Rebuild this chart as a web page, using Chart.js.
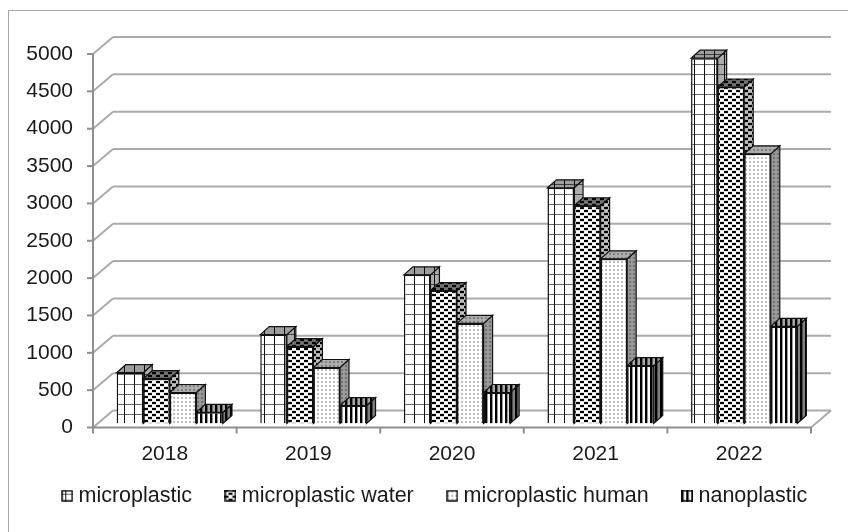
<!DOCTYPE html>
<html>
<head>
<meta charset="utf-8">
<style>
    html, body { margin: 0; padding: 0; background: #fff; }
    #wrap { width: 848px; height: 532px; position: relative; overflow: hidden; }
    #frame { position: absolute; left: 8px; top: 10px; width: 860px; height: 540px; border: 1.5px solid #a8a8a8; box-sizing: border-box; }
    canvas { position: absolute; left: 0; top: 0; filter: blur(0.5px); }
</style>
<script src="https://cdn.jsdelivr.net/npm/chart.js@4/dist/chart.umd.min.js"></script>
</head>
<body>
<div id="wrap">
    <div id="frame"></div>
    <canvas id="chart" width="848" height="532"></canvas>
</div>
<script>
const years = ['2018', '2019', '2020', '2021', '2022']
const series_names = ['microplastic', 'microplastic water', 'microplastic human', 'nanoplastic']
const microplastic = [680, 1190, 1990, 3155, 4890]
const microplastic_water = [600, 1030, 1780, 2915, 4505]
const microplastic_human = [415, 750, 1340, 2205, 3610]
const nanoplastic = [150, 240, 415, 775, 1300]

const FONT = 'Liberation Sans'
const TEXT = '#1a1a1a'
const WALL = '#ababab'
const AXIS = '#8f8f8f'

// depth of the fake 3d box, measured from the plane of the bar fronts
const FRONT = { x: -5, y: 4 }
const BACK = { x: 15, y: -13 }
const BAR_DEPTH = { x: 9, y: -8 }

// where the legend sits, the x labels would push it too low otherwise
const LEGEND_SHIFT = 39
const LEGEND_TOP = 447

//
// Fill patterns
//

function tile (w, h, paint) {
    const c = document.createElement('canvas')
    c.width = w
    c.height = h
    const ctx = c.getContext('2d')
    ctx.fillStyle = '#fff'
    ctx.fillRect(0, 0, w, h)
    paint(ctx)
    return c
}

const grid_tile = tile(10, 10, (ctx) => {
    ctx.fillStyle = '#666'
    ctx.fillRect(0, 4, 10, 1)
    ctx.fillStyle = '#111'
    ctx.fillRect(4, 0, 1, 10)
})
const check_tile = tile(8, 6, (ctx) => {
    ctx.fillStyle = '#000'
    ctx.fillRect(0, 0, 4, 2)
    ctx.fillRect(4, 3, 4, 2)
    ctx.fillStyle = '#ddd'
    ctx.fillRect(0, 2, 8, 1)
    ctx.fillRect(0, 5, 8, 1)
})
const dot_tile = tile(4, 4, (ctx) => {
    ctx.fillStyle = '#bdbdbd'
    ctx.fillRect(1, 1, 2, 2)
})
const stripe_tile = tile(5, 4, (ctx) => {
    ctx.fillStyle = '#000'
    ctx.fillRect(0, 0, 2, 4)
    ctx.fillStyle = '#999'
    ctx.fillRect(2, 0, 1, 4)
})
const tiles = [grid_tile, check_tile, dot_tile, stripe_tile]
const patterns = tiles.map((t) => t.getContext('2d').createPattern(t, 'repeat'))

// shade over the pattern: [ side, top ]
const shades = [
    [ 'rgba(0,0,0,0.32)', 'rgba(0,0,0,0.38)' ],
    [ 'rgba(0,0,0,0.25)', 'rgba(0,0,0,0.55)' ],
    [ 'rgba(0,0,0,0.40)', 'rgba(0,0,0,0.32)' ],
    [ 'rgba(0,0,0,0.50)', 'rgba(0,0,0,0.35)' ],
]

function legend_icon (pattern) {
    const c = document.createElement('canvas')
    c.width = 12
    c.height = 12
    const ctx = c.getContext('2d')
    ctx.fillStyle = pattern
    ctx.fillRect(0, 0, 12, 12)
    ctx.strokeStyle = '#111'
    ctx.lineWidth = 1.5
    ctx.strokeRect(1, 1, 10, 10)
    return c
}

//
// Box walls and bar side faces
//

function line (ctx, x0, y0, x1, y1) {
    ctx.beginPath()
    ctx.moveTo(x0, y0)
    ctx.lineTo(x1, y1)
    ctx.stroke()
}

function face (ctx, points, pattern, shade) {
    ctx.beginPath()
    points.forEach(([ x, y ], i) => (i ? ctx.lineTo(x, y) : ctx.moveTo(x, y)))
    ctx.closePath()
    ctx.fillStyle = pattern
    ctx.fill()
    ctx.fillStyle = shade
    ctx.fill()
    ctx.strokeStyle = '#111'
    ctx.lineWidth = 1.2
    ctx.stroke()
}

const box3d = {
    id: 'box3d',
    afterLayout (chart) {
        chart.legend.left += LEGEND_SHIFT
        chart.legend.right += LEGEND_SHIFT
        chart.legend.top = LEGEND_TOP
    },
    beforeDatasetsDraw (chart) {
        const { ctx, chartArea: area, scales } = chart
        const { y: y_scale } = scales
        const front_l = area.left + FRONT.x
        const front_r = area.right + FRONT.x
        const back_l = area.left + BACK.x
        const back_r = area.right + BACK.x
        ctx.save()

        ctx.lineWidth = 2
        ctx.strokeStyle = WALL
        for (const tick of y_scale.ticks) {
            const y = y_scale.getPixelForValue(tick.value)
            line(ctx, back_l, y + BACK.y, back_r, y + BACK.y)
            line(ctx, front_l, y + FRONT.y, back_l, y + BACK.y)
        }
        const base = y_scale.getPixelForValue(0)
        line(ctx, front_r, base + FRONT.y, back_r, base + BACK.y)

        ctx.strokeStyle = AXIS
        line(ctx, front_l, y_scale.getPixelForValue(5000) + FRONT.y, front_l, base + FRONT.y)
        line(ctx, front_l, base + FRONT.y, front_r, base + FRONT.y)
        for (const tick of y_scale.ticks) {
            const y = y_scale.getPixelForValue(tick.value) + FRONT.y
            line(ctx, front_l - 6, y, front_l, y)
        }
        const step = (area.right - area.left) / years.length
        for (let i = 0; i <= years.length; i++) {
            const x = front_l + i * step
            line(ctx, x, base + FRONT.y, x, base + FRONT.y + 6)
        }

        chart.data.datasets.forEach((ds, i) => {
            const [ side_shade, top_shade ] = shades[i]
            chart.getDatasetMeta(i).data.forEach((bar) => {
                const { x, y, base: b, width } = bar.getProps([ 'x', 'y', 'base', 'width' ])
                const l = x - width / 2
                const r = x + width / 2
                const d = BAR_DEPTH
                face(ctx, [ [ r, y ], [ r + d.x, y + d.y ], [ r + d.x, b + d.y ], [ r, b ] ], patterns[i], side_shade)
                face(ctx, [ [ l, y ], [ l + d.x, y + d.y ], [ r + d.x, y + d.y ], [ r, y ] ], patterns[i], top_shade)
            })
        })
        ctx.restore()
    },
}

//
// Chart
//

const all_values = [microplastic, microplastic_water, microplastic_human, nanoplastic]

new Chart(document.getElementById('chart'), {
    type: 'bar',
    data: {
        labels: years,
        datasets: series_names.map((name, i) => ({
            label: name,
            data: all_values[i],
            backgroundColor: patterns[i],
            borderColor: '#111',
            borderWidth: 1.5,
            barPercentage: 1,
            categoryPercentage: 0.74,
        })),
    },
    options: {
        responsive: false,
        animation: false,
        layout: { padding: { left: -20, right: 32, top: 50, bottom: -3 } },
        scales: {
            x: {
                grid: { display: false, drawTicks: false },
                border: { display: false },
                afterFit: (s) => { s.height = 42 },
                ticks: {
                    color: TEXT,
                    font: { family: FONT, size: 21 },
                    padding: 18,
                    labelOffset: -5,
                    maxRotation: 0,
                },
            },
            y: {
                min: 0,
                max: 5000,
                grid: { display: false, drawTicks: false },
                border: { display: false },
                afterFit: (s) => { s.width = 118 },
                ticks: {
                    stepSize: 500,
                    format: { useGrouping: false },
                    color: TEXT,
                    font: { family: FONT, size: 21 },
                    padding: 25,
                    labelOffset: 4,
                },
            },
        },
        plugins: {
            tooltip: { enabled: false },
            legend: {
                position: 'bottom',
                labels: {
                    usePointStyle: true,
                    boxWidth: 1,
                    padding: 38,
                    color: TEXT,
                    font: { family: FONT, size: 21.5 },
                    generateLabels (chart) {
                        const labels = Chart.defaults.plugins.legend.labels.generateLabels(chart)
                        labels.forEach((item, i) => { item.pointStyle = legend_icon(patterns[i]) })
                        return labels
                    },
                },
            },
        },
    },
    plugins: [ box3d ],
})
</script>
</body>
</html>
